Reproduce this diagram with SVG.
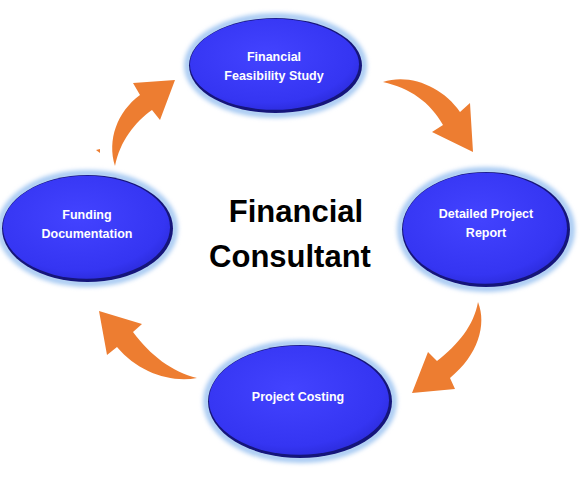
<svg xmlns="http://www.w3.org/2000/svg" width="584" height="481" viewBox="0 0 584 481">
<style>
.arrow{fill:#ED7D31;}
.lbl{font-family:"Liberation Sans",Arial,sans-serif;font-weight:bold;font-size:12.5px;fill:#ffffff;text-anchor:middle;}
.title{font-family:"Liberation Sans",Arial,sans-serif;font-weight:bold;font-size:31px;fill:#000000;text-anchor:middle;}
.glow{fill:none;stroke:#a9cbf3;stroke-width:7;filter:url(#blur);}
.rim{fill:#15157a;}
.face{fill:url(#blue);}
</style>
<defs>
<radialGradient id="blue" cx="0.45" cy="0.4" r="0.65">
<stop offset="0" stop-color="#4343ff"/>
<stop offset="0.8" stop-color="#3535f2"/>
<stop offset="1" stop-color="#2a2ad8"/>
</radialGradient>
<filter id="blur" x="-20%" y="-20%" width="140%" height="140%">
<feGaussianBlur stdDeviation="2"/>
</filter>
</defs>
<rect width="584" height="481" fill="#ffffff"/>
<g id="connectors">
<path class="arrow" d="M383,82 C410,73 443,87 460,112 L470,103 L473,152 L432,132 L443,125 C430,102 410,88 383,82 Z"/>
<path class="arrow" d="M478,302 C487,325 478,355 450,378 L455,389 L412,393 L428,352 L437,361 C458,345 474,325 478,302 Z"/>
<path class="arrow" d="M197,378 C170,383 138,372 117,347 L107,355 L99,311 L142,324 L133,332 C150,355 172,372 197,378 Z"/>
<path class="arrow" d="M115,166 C107,140 117,112 140,95 L133,83 L175,80 L160,120 L152,110 C135,122 120,141 115,166 Z"/>
<path class="arrow" d="M96,150 L100,149 L100,153 Z"/>
</g>
<g id="node-feasibility">
<ellipse class="glow" cx="275.5" cy="65.5" rx="88" ry="49"/>
<ellipse class="rim" cx="275.5" cy="65.5" rx="86.5" ry="47.5"/>
<ellipse class="face" cx="274.5" cy="64.3" rx="84.5" ry="45.5"/>
<text class="lbl" x="274" y="61">Financial</text>
<text class="lbl" x="274" y="80">Feasibility Study</text>
</g>
<g id="node-report">
<ellipse class="glow" cx="486" cy="229.5" rx="85.5" ry="59"/>
<ellipse class="rim" cx="486" cy="229.5" rx="84" ry="57.5"/>
<ellipse class="face" cx="485" cy="228.3" rx="82" ry="55.5"/>
<text class="lbl" x="486" y="218">Detailed Project</text>
<text class="lbl" x="486" y="237">Report</text>
</g>
<g id="node-costing">
<ellipse class="glow" cx="300" cy="401.5" rx="93.5" ry="58"/>
<ellipse class="rim" cx="300" cy="401.5" rx="92" ry="56.5"/>
<ellipse class="face" cx="299" cy="400.3" rx="90" ry="54.5"/>
<text class="lbl" x="298" y="401">Project Costing</text>
</g>
<g id="node-funding">
<ellipse class="glow" cx="87.5" cy="228.5" rx="87" ry="55"/>
<ellipse class="rim" cx="87.5" cy="228.5" rx="85.5" ry="53.5"/>
<ellipse class="face" cx="86.5" cy="227.3" rx="83.5" ry="51.5"/>
<text class="lbl" x="87" y="219">Funding</text>
<text class="lbl" x="87" y="238">Documentation</text>
</g>
<g id="center-title">
<text class="title" x="296" y="222">Financial</text>
<text class="title" x="290" y="267">Consultant</text>
</g>
</svg>
